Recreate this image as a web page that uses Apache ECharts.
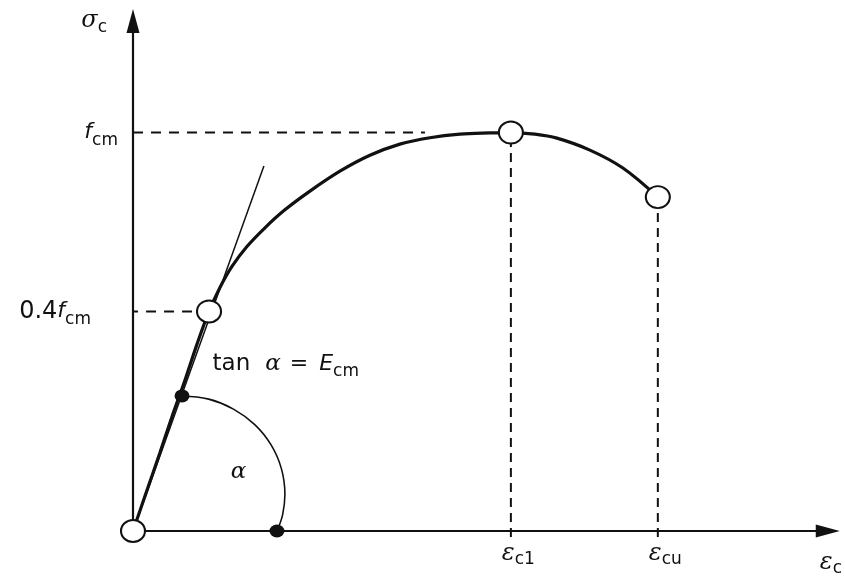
<!DOCTYPE html>
<html>
<head>
<meta charset="utf-8">
<script src="https://cdn.jsdelivr.net/npm/echarts@6/dist/echarts.min.js"></script>
<style>
  html, body { margin: 0; padding: 0; background: #ffffff; }
  #chart { width: 845px; height: 577px; }
</style>
</head>
<body>
<div id="chart"></div>
<script>
// Schematic stress–strain relation of concrete under compression.
// Strain in ‰, stress in drawing units (f_cm drawn at 10).

const strainPeak = 2.52;     // ε_c1
const strainUltimate = 3.5;  // ε_cu
const stressPeak = 10;       // f_cm
const stressSecant = 5.51;   // level marked 0.4 f_cm
const stressUltimate = 8.38; // stress at ε_cu

// main σ–ε curve
const curveStrain = [0, 0.093, 0.18, 0.26, 0.347, 0.427, 0.507, 0.58, 0.66, 0.76, 0.88, 1.013,
  1.18, 1.38, 1.58, 1.78, 1.98, 2.18, 2.38, 2.52, 2.68, 2.827, 3.047, 3.267, 3.5];
const curveStress = [0, 1.02, 1.97, 2.87, 3.79, 4.69, 5.51, 6.11, 6.64, 7.14, 7.61, 8.06,
  8.53, 9.03, 9.43, 9.71, 9.87, 9.96, 9.99, 10, 9.96, 9.86, 9.56, 9.11, 8.38];

// tangent at the origin (slope E_cm)
const tangentStrain = [0, 0.873];
const tangentStress = [0, 9.16];

// angle arc α between tangent and strain axis
const arcStrain = [0.327, 0.505, 0.67, 0.812, 0.921, 0.99, 1.013, 0.998, 0.96];
const arcStress = [3.39, 3.31, 3.06, 2.67, 2.16, 1.56, 0.92, 0.41, 0];

// open circles on the curve
const keyStrain = [0, 0.507, strainPeak, strainUltimate];
const keyStress = [0, stressSecant, stressPeak, stressUltimate];

// filled dots at the ends of the arc
const dotStrain = [0.327, 0.96];
const dotStress = [3.39, 0];

// tick labels
const xTickValues = [strainPeak, strainUltimate];
const xTickLabels = ['{sp|}{e|ε}{s|c1}', '{sp|}{e|ε}{s|cu}'];
const yTickValues = [stressSecant, stressPeak];
const yTickLabels = ['{n|0.4}{f|f}{s|cm}{gap|}', '{f|f}{s|cm}'];

// free annotations
const noteStrain = [0.527, 0.653];
const noteStress = [4.19, 1.47];
const noteText = ['{t|tan}{a|α}{eq|=}{E|E}{s|cm}', '{a|α}'];

const ink = '#111111';
const sans = 'DejaVu Sans';
const serif = 'DejaVu Serif';

const pairs = (xs, ys) => xs.map((x, i) => [x, ys[i]]);

const richBase = {
  n: { fontFamily: sans, fontSize: 24, color: ink },
  f: { fontFamily: sans, fontStyle: 'italic', fontSize: 22, color: ink },
  s: { fontFamily: sans, fontSize: 17, color: ink, padding: [16, 0, 0, 0] },
  e: { fontFamily: serif, fontStyle: 'italic', fontSize: 24, color: ink },
  g: { fontFamily: serif, fontStyle: 'italic', fontSize: 24, color: ink },
  gap: { width: 27 },
  sp: { width: 15 },
  t: { fontFamily: sans, fontSize: 23, color: ink },
  a: { fontFamily: serif, fontStyle: 'italic', fontSize: 23, color: ink, padding: [0, 0, 0, 15] },
  eq: { fontFamily: sans, fontSize: 22, color: ink, padding: [0, 0, 0, 9] },
  E: { fontFamily: sans, fontStyle: 'italic', fontSize: 22, color: ink, padding: [0, 0, 0, 11] }
};
const withSub = pad => Object.assign({}, richBase, { s: Object.assign({}, richBase.s, { padding: [pad, 0, 0, 0] }) });

const dashed = (pts, dash) => ({
  type: 'line',
  data: pts,
  clip: false,
  silent: true,
  showSymbol: false,
  symbol: 'none',
  z: 1,
  lineStyle: { color: ink, width: 2, type: dash }
});

const chart = echarts.init(document.getElementById('chart'), null, { renderer: 'canvas' });

chart.setOption({
  backgroundColor: '#ffffff',
  animation: false,
  grid: { left: 133, right: 17, top: 21, bottom: 43 },
  xAxis: {
    type: 'value',
    min: 0,
    max: 4.6333,
    name: '{g|ε}{s|c}',
    nameLocation: 'end',
    nameGap: -8,
    nameTextStyle: { align: 'left', verticalAlign: 'top', padding: [17, 0, 0, 0], rich: withSub(12) },
    axisLine: {
      show: true,
      symbol: ['none', 'triangle'],
      symbolSize: [13, 24],
      lineStyle: { color: ink, width: 2.2 }
    },
    axisTick: { show: false },
    splitLine: { show: false },
    axisLabel: {
      customValues: xTickValues,
      margin: 8,
      formatter: v => xTickLabels[xTickValues.indexOf(v)] || '',
      rich: withSub(12)
    }
  },
  yAxis: {
    type: 'value',
    min: 0,
    max: 12.8,
    name: '{g|σ}{s|c}',
    nameLocation: 'end',
    nameGap: 0,
    nameTextStyle: { align: 'right', verticalAlign: 'middle', padding: [0, 26, 0, 0], rich: withSub(14) },
    axisLine: {
      show: true,
      symbol: ['none', 'triangle'],
      symbolSize: [13, 24],
      lineStyle: { color: ink, width: 2.2 }
    },
    axisTick: { show: false },
    splitLine: { show: false },
    axisLabel: {
      customValues: yTickValues,
      margin: 15,
      formatter: v => yTickLabels[yTickValues.indexOf(v)] || '',
      rich: richBase
    }
  },
  series: [
    // reference levels
    dashed([[0, stressPeak], [1.947, stressPeak]], [10, 8]),
    dashed([[-0.153, stressSecant], [keyStrain[1], stressSecant]], [10, 8]),
    dashed([[strainPeak, -0.15], [strainPeak, stressPeak]], [9, 6]),
    dashed([[strainUltimate, -0.15], [strainUltimate, stressUltimate]], [9, 6]),
    {
      name: 'σ–ε',
      type: 'line',
      data: pairs(curveStrain, curveStress),
      smooth: 0.35,
      showSymbol: false,
      symbol: 'none',
      silent: true,
      z: 3,
      lineStyle: { color: ink, width: 3.2 }
    },
    {
      name: 'tangent',
      type: 'line',
      data: pairs(tangentStrain, tangentStress),
      showSymbol: false,
      symbol: 'none',
      silent: true,
      z: 2,
      lineStyle: { color: ink, width: 1.5 }
    },
    {
      name: 'angle',
      type: 'line',
      data: pairs(arcStrain, arcStress),
      smooth: 0.4,
      showSymbol: false,
      symbol: 'none',
      silent: true,
      z: 2,
      lineStyle: { color: ink, width: 1.6 }
    },
    {
      name: 'dots',
      type: 'scatter',
      data: pairs(dotStrain, dotStress),
      symbol: 'circle',
      symbolSize: [15, 13],
      silent: true,
      z: 4,
      itemStyle: { color: ink, opacity: 1 }
    },
    {
      name: 'points',
      type: 'scatter',
      data: pairs(keyStrain, keyStress),
      symbol: 'circle',
      symbolSize: [24, 22],
      silent: true,
      clip: false,
      z: 5,
      itemStyle: { color: '#ffffff', borderColor: ink, borderWidth: 2, opacity: 1 }
    },
    {
      name: 'notes',
      type: 'scatter',
      data: [
        { value: [noteStrain[0], noteStress[0]], text: noteText[0], label: { position: 'right', distance: 0 } },
        { value: [noteStrain[1], noteStress[1]], text: noteText[1] }
      ],
      symbol: 'circle',
      symbolSize: 1,
      silent: true,
      z: 6,
      itemStyle: { color: 'rgba(0,0,0,0)', opacity: 1 },
      label: {
        show: true,
        position: 'inside',
        color: ink,
        formatter: p => p.data.text,
        rich: richBase
      }
    }
  ]
});
</script>
</body>
</html>
